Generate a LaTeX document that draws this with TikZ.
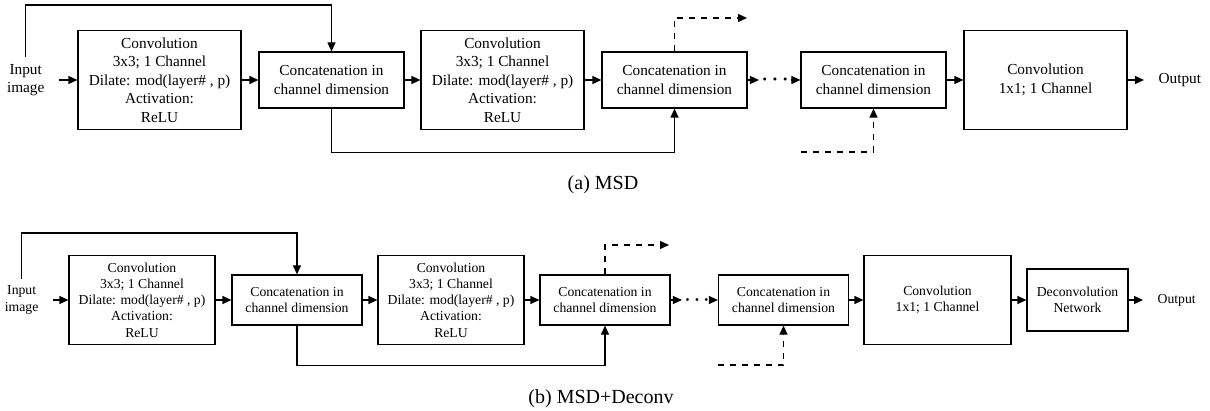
\documentclass[tikz,border=0pt]{standalone}
\usepackage{fontspec}
\setmainfont{Liberation Serif}
\usetikzlibrary{arrows.meta, positioning}

\begin{document}
\begin{tikzpicture}[
    x=0.5pt, y=-0.5pt, line width=0.6pt,
    >={Triangle[length=4.5pt, width=4pt]},
    every node/.style={align=center, font=\fontsize{7.65}{9.25}\selectfont},
    convboxA/.style={draw, minimum width=81.5pt, minimum height=49.5pt},
    catboxA/.style={draw, minimum width=72.5pt, minimum height=28pt},
    convboxB/.style={draw, minimum width=73pt, minimum height=44.5pt, font=\fontsize{6.85}{8.15}\selectfont},
    catboxB/.style={draw, minimum width=65pt, minimum height=25pt, font=\fontsize{6.85}{8.15}\selectfont},
    smalltext/.style={font=\fontsize{6.85}{8.15}\selectfont},
    dotsbox/.style={inner sep=1pt, font=\fontsize{10}{12}\selectfont\boldmath},
    caption/.style={font=\fontsize{10}{12}\selectfont},
]
\useasboundingbox (0,0) rectangle (1210,411);

% (a) MSD
\node (inA) at (59,80) [anchor=east, inner xsep=7pt] {Input\\image};
\node (convA1) at (159.5,80) [convboxA] {Convolution\\3x3; 1 Channel\\Dilate: mod(layer\# , p)\\Activation:\\ReLU};
\node (catA1) at (331.5,80) [catboxA] {Concatenation in\\channel dimension};
\node (convA2) at (502.5,80) [convboxA] {Convolution\\3x3; 1 Channel\\Dilate: mod(layer\# , p)\\Activation:\\ReLU};
\node (catA2) at (674.5,80) [catboxA] {Concatenation in\\channel dimension};
\node (dotsA) at (775,80) [dotsbox] {$\cdots$};
\node (catA3) at (873.5,80) [catboxA] {Concatenation in\\channel dimension};
\node (convA3) at (1045.5,80) [convboxA] {Convolution\\1x1; 1 Channel};
\node (outA) at (1144,80) [anchor=west, inner xsep=7pt] {Output};

\coordinate (topA) at (331.5,5);
\coordinate (nextA) at (747,18);
\coordinate (prevA) at (801,152);

\draw[->] (inA) -- (convA1);
\draw[->] (inA.north) |- (topA) -- (catA1.north);
\draw[->] (convA1) -- (catA1);
\draw[->] (catA1) -- (convA2);
\draw[->] (catA1.south) -- ++(0,44) -| (catA2.south);
\draw[->] (convA2) -- (catA2);
\draw[->, dashed] (catA2.north) |- (nextA);
\draw[->] (catA2) -- (dotsA);
\draw[->] (dotsA) -- (catA3);
\draw[->, dashed] (prevA) -| (catA3.south);
\draw[->] (catA3) -- (convA3);
\draw[->] (convA3) -- (outA);

\node[caption] (capA) at (603,185) {(a) MSD};

% (b) MSD+Deconv
\node (inB) at (53,300) [anchor=east, inner xsep=7pt, smalltext] {Input\\image};
\node (convB1) at (142,300) [convboxB] {Convolution\\3x3; 1 Channel\\Dilate: mod(layer\# , p)\\Activation:\\ReLU};
\node (catB1) at (297,300) [catboxB] {Concatenation in\\channel dimension};
\node (convB2) at (451,300) [convboxB] {Convolution\\3x3; 1 Channel\\Dilate: mod(layer\# , p)\\Activation:\\ReLU};
\node (catB2) at (605,300) [catboxB] {Concatenation in\\channel dimension};
\node (dotsB) at (697,300) [dotsbox, font=\fontsize{9}{11}\selectfont\boldmath] {$\cdots$};
\node (catB3) at (783.5,300) [catboxB] {Concatenation in\\channel dimension};
\node (convB3) at (937.5,300) [convboxB, minimum width=73.5pt] {Convolution\\1x1; 1 Channel};
\node (deconvB) at (1077.5,300) [convboxB, minimum width=50.5pt, minimum height=31pt] {Deconvolution\\Network};
\node (outB) at (1143,300) [anchor=west, inner xsep=7pt, smalltext] {Output};

\coordinate (topB) at (297,233);
\coordinate (nextB) at (669,245);
\coordinate (prevB) at (718,365);

\draw[->] (inB) -- (convB1);
\draw[->] (inB.north) |- (topB) -- (catB1.north);
\draw[->] (convB1) -- (catB1);
\draw[->] (catB1) -- (convB2);
\draw[->] (catB1.south) -- ++(0,40) -| (catB2.south);
\draw[->] (convB2) -- (catB2);
\draw[->, dashed] (catB2.north) |- (nextB);
\draw[->] (catB2) -- (dotsB);
\draw[->] (dotsB) -- (catB3);
\draw[->, dashed] (prevB) -| (catB3.south);
\draw[->] (catB3) -- (convB3);
\draw[->] (convB3) -- (deconvB);
\draw[->] (deconvB) -- (outB);

\node[caption] (capB) at (601,399) {(b) MSD+Deconv};

\end{tikzpicture}
\end{document}
